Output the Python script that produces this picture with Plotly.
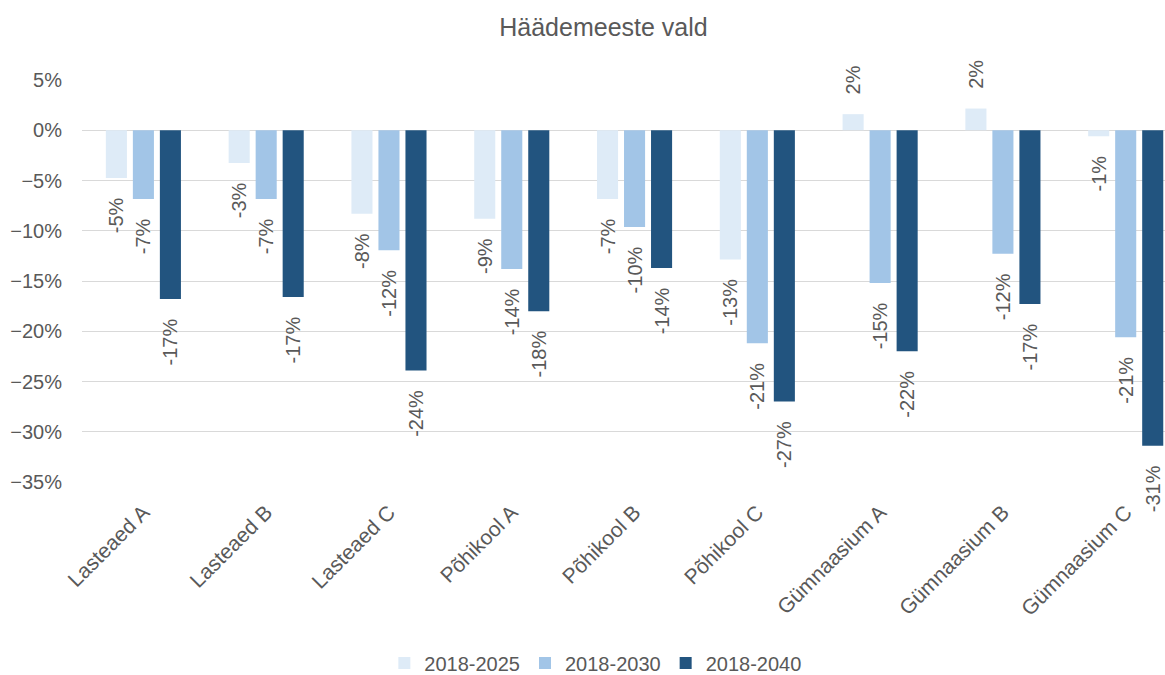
import plotly.graph_objects as go

categories = ["Lasteaed A", "Lasteaed B", "Lasteaed C", "Põhikool A", "Põhikool B",
              "Põhikool C", "Gümnaasium A", "Gümnaasium B", "Gümnaasium C"]
series_names = ["2018-2025", "2018-2030", "2018-2040"]
v2025 = [-0.0475, -0.0326, -0.083, -0.088, -0.0684, -0.1285, 0.016, 0.0216, -0.006]
v2030 = [-0.0684, -0.0684, -0.1195, -0.138, -0.0963, -0.212, -0.152, -0.123, -0.206]
v2040 = [-0.168, -0.166, -0.239, -0.180, -0.137, -0.270, -0.220, -0.173, -0.314]
colors = ["#DEEBF7", "#A2C5E7", "#22547F"]
y_ticks = [0.05, 0, -0.05, -0.10, -0.15, -0.20, -0.25, -0.30, -0.35]

TXT = "#595959"
FONT = "Liberation Sans, Arial, sans-serif"
PAD = "\u00a0\u00a0\u00a0"


def labels(vals):
    out = []
    for v in vals:
        s = f"{round(v * 100):d}%"
        out.append(PAD + s if v >= 0 else s + PAD)
    return out


fig = go.Figure()
for name, vals, col in zip(series_names, [v2025, v2030, v2040], colors):
    fig.add_trace(go.Bar(
        x=categories, y=vals, name=name, marker=dict(color=col, line=dict(width=0)),
        text=labels(vals), textposition="outside", textangle=-90,
        textfont=dict(family=FONT, size=20, color=TXT),
        constraintext="none", cliponaxis=False, hoverinfo="skip",
    ))

fig.update_layout(
    width=1165, height=675,
    margin=dict(l=82, r=0, t=80, b=193, autoexpand=False),
    paper_bgcolor="white", plot_bgcolor="white",
    barmode="group", bargap=0.34, bargroupgap=0.22,
    font=dict(family=FONT, color=TXT),
    title=dict(text="Häädemeeste vald", x=0.518, xanchor="center", y=0.96, yanchor="middle",
               font=dict(family=FONT, size=25, color=TXT)),
    showlegend=True,
    legend=dict(orientation="h", x=0.474, xanchor="center", y=-0.45, yanchor="middle",
                font=dict(family=FONT, size=20, color=TXT), itemwidth=30,
                bgcolor="rgba(0,0,0,0)"),
)
fig.update_yaxes(
    range=[-0.35, 0.05], tickvals=y_ticks, tickformat=".0%",
    showgrid=True, gridcolor="#D9D9D9", gridwidth=1,
    zeroline=True, zerolinecolor="#D9D9D9", zerolinewidth=1,
    showline=False, ticks="", ticklabelstandoff=19,
    tickfont=dict(family=FONT, size=20, color=TXT),
)
fig.update_xaxes(
    range=[-0.5, 8.32], tickangle=-45, showgrid=False, showline=False, zeroline=False,
    ticks="", ticklabelstandoff=13,
    tickfont=dict(family=FONT, size=21, color=TXT),
)
fig.write_html(
    "out.html",
    config={"displayModeBar": False},
    post_script="document.body.style.margin='0';document.body.style.overflow='hidden';",
)
